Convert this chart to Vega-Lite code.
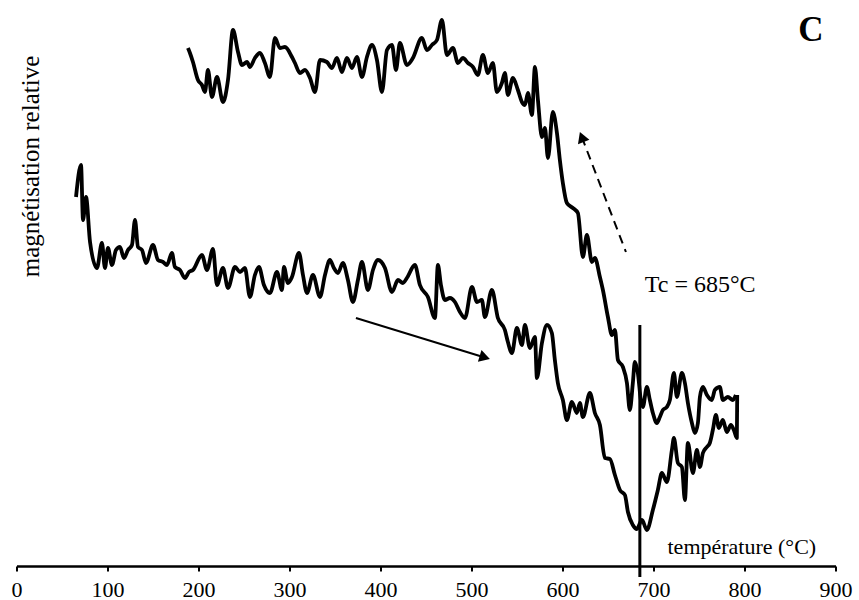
{
  "$schema": "https://vega.github.io/schema/vega-lite/v6.json",
  "width": 819,
  "height": 566,
  "autosize": {"type": "none"},
  "padding": {"left": 16.5, "top": 0, "right": 23.5, "bottom": 34},
  "background": "white",
  "config": {
    "view": {"stroke": null},
    "font": "Liberation Serif",
    "axis": {"grid": false}
  },
  "datasets": {
    "heating": [
      {"T":65.4,"M":3.69},{"T":70.9,"M":4.01},{"T":73.1,"M":3.46},{"T":76.4,"M":3.69},{"T":80.8,"M":3.24},{"T":88.4,"M":2.98},{"T":93.9,"M":3.23},{"T":97.2,"M":2.98},{"T":100.5,"M":3.18},{"T":104.9,"M":3.01},{"T":109.3,"M":3.16},{"T":113.7,"M":3.19},{"T":118.1,"M":3.08},{"T":122.5,"M":3.16},{"T":126.9,"M":3.21},{"T":130.2,"M":3.46},{"T":133.5,"M":3.19},{"T":137.9,"M":3.16},{"T":142.3,"M":3.03},{"T":150.0,"M":3.21},{"T":155.5,"M":3.06},{"T":161.0,"M":3.04},{"T":165.3,"M":3.01},{"T":170.8,"M":3.13},{"T":174.1,"M":2.99},{"T":179.6,"M":2.96},{"T":185.1,"M":2.88},{"T":189.5,"M":2.94},{"T":193.9,"M":2.96},{"T":203.8,"M":3.11},{"T":209.3,"M":2.96},{"T":215.9,"M":3.17},{"T":220.3,"M":2.81},{"T":226.9,"M":2.98},{"T":232.4,"M":2.78},{"T":240.1,"M":2.99},{"T":245.6,"M":2.94},{"T":251.0,"M":2.98},{"T":256.5,"M":2.69},{"T":262.0,"M":2.91},{"T":266.4,"M":2.99},{"T":271.9,"M":2.81},{"T":278.5,"M":2.73},{"T":286.2,"M":2.94},{"T":291.7,"M":2.76},{"T":293.9,"M":2.99},{"T":298.3,"M":2.83},{"T":302.7,"M":2.89},{"T":310.4,"M":3.13},{"T":314.8,"M":2.91},{"T":319.2,"M":2.73},{"T":325.8,"M":2.91},{"T":333.5,"M":2.69},{"T":339.0,"M":2.91},{"T":344.4,"M":3.06},{"T":348.8,"M":2.98},{"T":353.2,"M":2.93},{"T":358.7,"M":3.03},{"T":364.2,"M":2.86},{"T":369.7,"M":2.64},{"T":375.2,"M":2.86},{"T":379.6,"M":3.04},{"T":386.2,"M":2.76},{"T":391.7,"M":2.96},{"T":397.2,"M":3.06},{"T":404.9,"M":2.98},{"T":412.6,"M":2.74},{"T":419.2,"M":2.86},{"T":424.6,"M":2.83},{"T":429.0,"M":2.88},{"T":437.8,"M":3.01},{"T":443.3,"M":2.81},{"T":452.1,"M":2.69},{"T":459.8,"M":2.48},{"T":463.1,"M":3.01},{"T":466.4,"M":2.81},{"T":470.8,"M":2.66},{"T":476.3,"M":2.68},{"T":481.8,"M":2.64},{"T":487.3,"M":2.54},{"T":492.8,"M":2.48},{"T":500.5,"M":2.79},{"T":506.0,"M":2.64},{"T":511.4,"M":2.66},{"T":514.7,"M":2.49},{"T":522.4,"M":2.76},{"T":529.0,"M":2.48},{"T":536.7,"M":2.36},{"T":540.0,"M":2.24},{"T":544.4,"M":2.13},{"T":549.9,"M":2.38},{"T":555.4,"M":2.21},{"T":558.7,"M":2.41},{"T":564.2,"M":2.18},{"T":569.7,"M":2.29},{"T":571.9,"M":1.88},{"T":577.4,"M":2.23},{"T":582.9,"M":2.41},{"T":588.3,"M":2.33},{"T":591.6,"M":2.06},{"T":594.9,"M":1.83},{"T":600.4,"M":1.66},{"T":604.8,"M":1.46},{"T":610.3,"M":1.64},{"T":615.8,"M":1.53},{"T":619.1,"M":1.63},{"T":622.4,"M":1.49},{"T":630.1,"M":1.73},{"T":635.6,"M":1.53},{"T":641.1,"M":1.41},{"T":646.6,"M":1.08},{"T":652.1,"M":1.07},{"T":657.6,"M":0.91},{"T":663.1,"M":0.76},{"T":668.6,"M":0.71},{"T":671.9,"M":0.54},{"T":677.3,"M":0.41},{"T":681.7,"M":0.37},{"T":687.3,"M":0.46},{"T":692.7,"M":0.36},{"T":699.3,"M":0.56},{"T":704.8,"M":0.76},{"T":709.2,"M":0.93},{"T":714.7,"M":0.84},{"T":720.2,"M":1.16},{"T":722.4,"M":1.28},{"T":726.8,"M":1.03},{"T":731.2,"M":0.99},{"T":734.5,"M":0.66},{"T":737.8,"M":1.23},{"T":743.3,"M":0.93},{"T":747.7,"M":1.16},{"T":751.0,"M":0.99},{"T":754.3,"M":1.13},{"T":758.7,"M":1.19},{"T":761.9,"M":1.23},{"T":765.2,"M":1.36},{"T":768.6,"M":1.51},{"T":771.8,"M":1.38},{"T":776.2,"M":1.46},{"T":780.6,"M":1.34},{"T":785.0,"M":1.41},{"T":788.3,"M":1.36},{"T":791.6,"M":1.28},{"T":792.0,"M":1.71}
    ],
    "cooling": [
      {"T":188.4,"M":5.18},{"T":190.6,"M":5.13},{"T":193.9,"M":5.04},{"T":199.4,"M":4.86},{"T":203.8,"M":4.81},{"T":207.1,"M":4.74},{"T":210.4,"M":4.96},{"T":214.8,"M":4.69},{"T":220.3,"M":4.89},{"T":226.9,"M":4.64},{"T":232.4,"M":4.86},{"T":237.9,"M":5.36},{"T":243.4,"M":5.14},{"T":247.8,"M":5.01},{"T":253.3,"M":5.04},{"T":256.5,"M":4.99},{"T":262.0,"M":5.08},{"T":267.5,"M":5.13},{"T":273.0,"M":5.03},{"T":278.5,"M":4.89},{"T":284.0,"M":5.28},{"T":289.5,"M":5.18},{"T":295.0,"M":5.19},{"T":302.7,"M":5.09},{"T":306.0,"M":5.03},{"T":311.5,"M":4.93},{"T":317.0,"M":4.96},{"T":322.5,"M":4.88},{"T":328.0,"M":4.74},{"T":333.5,"M":5.06},{"T":341.1,"M":5.04},{"T":346.6,"M":4.98},{"T":352.1,"M":5.08},{"T":357.6,"M":4.94},{"T":363.1,"M":5.08},{"T":368.6,"M":4.98},{"T":374.1,"M":5.09},{"T":379.6,"M":4.89},{"T":385.1,"M":5.09},{"T":390.6,"M":5.21},{"T":396.1,"M":5.06},{"T":401.6,"M":4.74},{"T":407.1,"M":5.16},{"T":412.6,"M":5.21},{"T":417.0,"M":4.96},{"T":421.3,"M":5.23},{"T":429.0,"M":5.01},{"T":435.6,"M":5.08},{"T":445.5,"M":5.28},{"T":451.0,"M":5.16},{"T":456.5,"M":5.21},{"T":462.0,"M":5.26},{"T":467.5,"M":5.46},{"T":473.0,"M":5.11},{"T":479.6,"M":5.18},{"T":485.1,"M":5.03},{"T":490.6,"M":5.08},{"T":496.1,"M":5.03},{"T":501.6,"M":4.99},{"T":507.0,"M":4.91},{"T":512.5,"M":5.11},{"T":518.0,"M":4.93},{"T":523.5,"M":5.03},{"T":527.9,"M":4.74},{"T":533.4,"M":4.83},{"T":536.7,"M":4.93},{"T":540.0,"M":4.71},{"T":545.5,"M":4.88},{"T":551.0,"M":4.76},{"T":555.4,"M":4.64},{"T":558.7,"M":4.61},{"T":562.0,"M":4.73},{"T":566.4,"M":4.51},{"T":569.7,"M":4.99},{"T":573.0,"M":4.66},{"T":577.4,"M":4.29},{"T":580.7,"M":4.38},{"T":584.0,"M":4.08},{"T":589.4,"M":4.54},{"T":593.9,"M":4.33},{"T":597.1,"M":4.06},{"T":600.4,"M":3.83},{"T":604.8,"M":3.63},{"T":611.4,"M":3.58},{"T":616.9,"M":3.53},{"T":622.4,"M":3.09},{"T":626.8,"M":3.31},{"T":632.3,"M":3.04},{"T":635.6,"M":3.08},{"T":641.1,"M":2.89},{"T":644.4,"M":2.76},{"T":649.9,"M":2.49},{"T":654.3,"M":2.31},{"T":657.6,"M":2.36},{"T":660.9,"M":2.06},{"T":666.4,"M":1.99},{"T":670.8,"M":1.83},{"T":674.0,"M":1.56},{"T":677.3,"M":1.83},{"T":679.5,"M":2.04},{"T":682.8,"M":1.93},{"T":686.1,"M":1.66},{"T":688.3,"M":1.59},{"T":692.7,"M":1.79},{"T":696.0,"M":1.66},{"T":699.3,"M":1.53},{"T":703.7,"M":1.43},{"T":707.0,"M":1.49},{"T":710.3,"M":1.56},{"T":714.7,"M":1.59},{"T":718.0,"M":1.66},{"T":722.4,"M":1.93},{"T":725.7,"M":1.69},{"T":731.2,"M":1.93},{"T":734.5,"M":1.83},{"T":737.8,"M":1.63},{"T":742.2,"M":1.43},{"T":745.5,"M":1.33},{"T":748.8,"M":1.43},{"T":751.0,"M":1.69},{"T":754.3,"M":1.79},{"T":758.7,"M":1.71},{"T":764.1,"M":1.66},{"T":767.4,"M":1.76},{"T":772.9,"M":1.79},{"T":776.2,"M":1.66},{"T":781.7,"M":1.69},{"T":787.2,"M":1.66},{"T":790.5,"M":1.71}
    ]
  },
  "encoding": {
    "x": {
      "field": "T", "type": "quantitative",
      "scale": {"domain": [0, 900], "nice": false, "zero": false},
      "axis": {
        "values": [0,100,200,300,400,500,600,700,800,900],
        "domainColor": "black", "domainWidth": 2.5,
        "tickColor": "black", "tickWidth": 2, "tickSize": 5,
        "labelFont": "Liberation Serif", "labelFontSize": 22, "labelColor": "black",
        "labelPadding": 8, "labelFlush": false,
        "title": "température (°C)",
        "titleFont": "Liberation Serif", "titleFontSize": 22, "titleFontWeight": "normal", "titleColor": "black",
        "titleX": 650.5, "titleY": -13, "titleAlign": "left", "titleBaseline": "alphabetic", "titleAnchor": "start"
      }
    },
    "y": {
      "field": "M", "type": "quantitative",
      "scale": {"domain": [0, 5.66], "nice": false, "zero": false},
      "axis": {
        "domain": false, "ticks": false, "labels": false,
        "title": "magnétisation relative",
        "titleFont": "Liberation Serif", "titleFontSize": 25, "titleFontWeight": "normal", "titleColor": "black",
        "titleAngle": 270, "titleX": 13.5, "titleY": 166, "titleAlign": "center", "titleBaseline": "middle"
      }
    }
  },
  "layer": [
    {
      "data": {"name": "heating"},
      "mark": {"type": "line", "color": "black", "strokeWidth": 3.8, "strokeJoin": "round", "interpolate": "monotone", "clip": false}
    },
    {
      "data": {"name": "cooling"},
      "mark": {"type": "line", "color": "black", "strokeWidth": 3.8, "strokeJoin": "round", "interpolate": "monotone", "clip": false}
    },
    {
      "data": {"values": [{"T": 685, "M": 2.41, "M2": -0.11}]},
      "mark": {"type": "rule", "color": "black", "strokeWidth": 3},
      "encoding": {"y2": {"field": "M2"}}
    },
    {
      "data": {"values": [{"T": 373.0, "M": 2.48}, {"T": 514.6, "M": 2.085}]},
      "mark": {"type": "line", "color": "black", "strokeWidth": 2}
    },
    {
      "data": {"values": [{"T": 514.6, "M": 2.085}]},
      "mark": {"type": "point", "shape": "triangle-right", "filled": true, "color": "black", "opacity": 1, "size": 150, "angle": 17}
    },
    {
      "data": {"values": [{"T": 621.2, "M": 4.29}, {"T": 669.7, "M": 3.14}]},
      "mark": {"type": "line", "color": "black", "strokeWidth": 2, "strokeDash": [9, 6]}
    },
    {
      "data": {"values": [{"T": 621.2, "M": 4.29}]},
      "mark": {"type": "point", "shape": "triangle-up", "filled": true, "color": "black", "opacity": 1, "size": 150, "angle": -21}
    },
    {
      "data": {"values": [{"T": 690.5, "M": 2.74, "label": "Tc = 685°C"}]},
      "mark": {"type": "text", "align": "left", "baseline": "alphabetic", "font": "Liberation Serif", "fontSize": 24, "color": "black"},
      "encoding": {"text": {"field": "label"}}
    },
    {
      "data": {"values": [{"T": 872.9, "M": 5.25, "label": "C"}]},
      "mark": {"type": "text", "align": "center", "baseline": "alphabetic", "font": "Liberation Serif", "fontSize": 35, "fontWeight": "bold", "color": "black"},
      "encoding": {"text": {"field": "label"}}
    }
  ]
}
